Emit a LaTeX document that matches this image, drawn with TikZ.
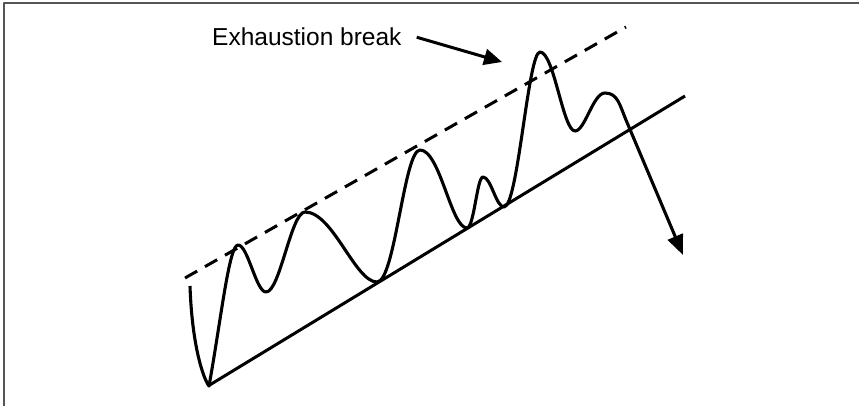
\documentclass[tikz,border=0pt]{standalone}
\usepackage{fontspec}
\setmainfont{Liberation Sans}
\usetikzlibrary{positioning, arrows.meta}
\definecolor{frameGrey}{HTML}{555555}

\begin{document}
\begin{tikzpicture}[x=1pt, y=1pt, line join=round,
    trend/.style={line width=3pt, black},
    dashtrend/.style={trend, dash pattern=on 14pt off 9pt},
    wave/.style={line width=3.1pt, black},
    pointer/.style={line width=3pt, -{Triangle[length=18pt, width=16pt]}}]
    \useasboundingbox (0,0) rectangle (859,-406);
    \clip (0,0) rectangle (859,-406);
    \draw[frameGrey, line width=1.2pt] (4,-430) rectangle (880,-3);

    % channel lines
    \coordinate (supA) at (208,-386);
    \coordinate (supB) at (685,-96);
    \coordinate (resA) at (185,-278);
    \coordinate (resB) at (626,-27);
    \draw[trend] (supA) -- (supB);
    \draw[dashtrend] (resA) -- (resB);

    % label
    \node[inner sep=0pt, anchor=base west, font=\fontsize{24.5}{29}\selectfont] (label)
      at (212,-46) {Exhaustion break};
    \coordinate (brk) at (502,-62);
    \draw[pointer] ([xshift=15pt]label.east) -- (brk);

    % price wave
    \coordinate (start) at (190,-286);
    \coordinate (tip) at (683,-255);
    \draw[wave, -{Triangle[length=20pt, width=16pt]}] (start)
      .. controls (192,-345) and (203,-378) .. (209,-386)
      .. controls (221,-320) and (229,-245) .. (238,-245)
      .. controls +(10,0) and +(-10,0) .. (266,-292)
      .. controls +(14,0) and +(-14,0) .. (305,-212)
      .. controls +(28,0) and +(-22,0) .. (377,-282)
      .. controls +(18,0) and +(-16,0) .. (420,-150)
      .. controls +(20,0) and +(-16,0) .. (467,-228)
      .. controls +(7,0) and +(-6,0) .. (483,-177)
      .. controls +(8,0) and +(-8,0) .. (504,-207)
      .. controls +(14,0) and +(-12,0) .. (540,-52)
      .. controls +(14,0) and +(-12,0) .. (575,-131)
      .. controls +(10,0) and +(-12,0) .. (605,-93)
      .. controls (618,-93) and (620,-106) .. (626,-120)
      -- (tip);
\end{tikzpicture}
\end{document}
